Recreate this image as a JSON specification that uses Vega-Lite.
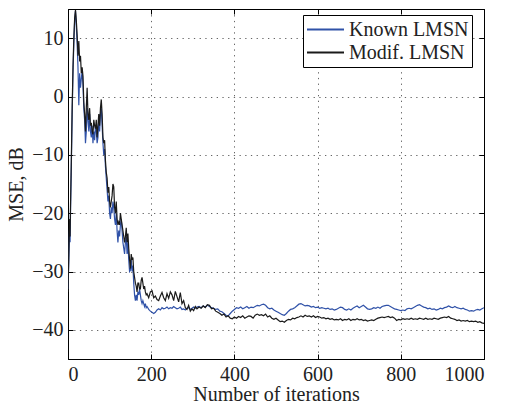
{
  "$schema": "https://vega.github.io/schema/vega-lite/v6.json",
  "width": 416,
  "height": 350,
  "autosize": {"type": "none"},
  "padding": {"left": 68, "top": 9, "right": 22, "bottom": 42},
  "background": "white",
  "config": {
    "font": "Liberation Serif",
    "view": {"stroke": "black", "strokeWidth": 1},
    "axis": {
      "labelFont": "Liberation Serif",
      "titleFont": "Liberation Serif",
      "labelFontSize": 20,
      "titleFontSize": 20,
      "titleFontWeight": "normal",
      "labelColor": "#222",
      "titleColor": "#222",
      "domainColor": "black",
      "tickColor": "black",
      "gridColor": "#666",
      "gridDash": [1.3, 4.4],
      "gridOpacity": 1,
      "gridWidth": 1
    },
    "legend": {
      "labelFont": "Liberation Serif",
      "labelFontSize": 20,
      "labelColor": "#222"
    }
  },
  "data": {
    "values": [
      {"i":0,"k":-33,"m":-33.5},{"i":2,"k":-28,"m":-27},{"i":4,"k":-22,"m":-21},{"i":5,"k":-25,"m":-24},{"i":6,"k":-20,"m":-19},{"i":8,"k":-12,"m":-11},{"i":10,"k":-3,"m":-2},{"i":12,"k":4,"m":5},{"i":14,"k":9,"m":10},{"i":16,"k":13,"m":13.5},{"i":18,"k":14.7,"m":14.8},{"i":20,"k":12,"m":13},{"i":22,"k":9,"m":10.5},{"i":24,"k":5,"m":7},{"i":26,"k":-1.5,"m":9.5},{"i":28,"k":4,"m":6},{"i":30,"k":1.5,"m":7},{"i":32,"k":3,"m":4},{"i":34,"k":4.5,"m":5},{"i":36,"k":2,"m":3.5},{"i":38,"k":-2,"m":-1},{"i":40,"k":-4,"m":-3},{"i":42,"k":-8,"m":-6},{"i":44,"k":-6,"m":-2},{"i":46,"k":-2,"m":1.5},{"i":48,"k":-4,"m":-3},{"i":50,"k":-6,"m":-4},{"i":52,"k":-3,"m":-2},{"i":54,"k":-6,"m":-5},{"i":56,"k":-7,"m":-4.5},{"i":58,"k":-5,"m":-6},{"i":60,"k":-8,"m":-6.5},{"i":62,"k":-6,"m":-4},{"i":64,"k":-7.5,"m":-5},{"i":66,"k":-5,"m":-5.5},{"i":68,"k":-6,"m":-4},{"i":70,"k":-8,"m":-7},{"i":72,"k":-7,"m":-5},{"i":74,"k":-4,"m":-3},{"i":76,"k":-6,"m":-5},{"i":78,"k":-3,"m":-2},{"i":80,"k":-2,"m":-0.5},{"i":82,"k":-5,"m":-3},{"i":84,"k":-8,"m":-7},{"i":86,"k":-10,"m":-8},{"i":88,"k":-9,"m":-7.5},{"i":90,"k":-12,"m":-11},{"i":92,"k":-14,"m":-13},{"i":94,"k":-16,"m":-14},{"i":96,"k":-18,"m":-16.5},{"i":98,"k":-17,"m":-15.5},{"i":100,"k":-20,"m":-18},{"i":102,"k":-21,"m":-19},{"i":104,"k":-19,"m":-18},{"i":106,"k":-20,"m":-17},{"i":108,"k":-18,"m":-15},{"i":110,"k":-19,"m":-15.5},{"i":112,"k":-21,"m":-19},{"i":114,"k":-22,"m":-20},{"i":116,"k":-20,"m":-18},{"i":118,"k":-23,"m":-21},{"i":120,"k":-25,"m":-22},{"i":122,"k":-23,"m":-21.5},{"i":124,"k":-24,"m":-22},{"i":126,"k":-22,"m":-20},{"i":128,"k":-21,"m":-21},{"i":130,"k":-23,"m":-22},{"i":132,"k":-25,"m":-23},{"i":134,"k":-26,"m":-24},{"i":136,"k":-27,"m":-25},{"i":138,"k":-25,"m":-24},{"i":140,"k":-24,"m":-22.5},{"i":142,"k":-27,"m":-25},{"i":144,"k":-25,"m":-23.5},{"i":146,"k":-28,"m":-26},{"i":148,"k":-30,"m":-28},{"i":150,"k":-29.8,"m":-29.5},{"i":152,"k":-28,"m":-27},{"i":154,"k":-30,"m":-28},{"i":156,"k":-29,"m":-27.6},{"i":158,"k":-32,"m":-30},{"i":160,"k":-34,"m":-31},{"i":162,"k":-35,"m":-32},{"i":164,"k":-34,"m":-32.5},{"i":166,"k":-35,"m":-33.5},{"i":168,"k":-33.5,"m":-32},{"i":170,"k":-34,"m":-32},{"i":172,"k":-33,"m":-33},{"i":174,"k":-34,"m":-33},{"i":176,"k":-35,"m":-31.5},{"i":178,"k":-35.5,"m":-31},{"i":180,"k":-35,"m":-32},{"i":182,"k":-35.5,"m":-33},{"i":184,"k":-36,"m":-32.5},{"i":186,"k":-35.5,"m":-33.5},{"i":188,"k":-36.2,"m":-34},{"i":190,"k":-36,"m":-33.8},{"i":194,"k":-36.5,"m":-34.5},{"i":198,"k":-36.8,"m":-33.5},{"i":202,"k":-37,"m":-33.3},{"i":206,"k":-37.2,"m":-34.5},{"i":210,"k":-37,"m":-34.2},{"i":214,"k":-36.6,"m":-34.8},{"i":218,"k":-36.4,"m":-35},{"i":222,"k":-36.6,"m":-34.2},{"i":226,"k":-36.2,"m":-33.6},{"i":230,"k":-36.4,"m":-34.5},{"i":234,"k":-36.3,"m":-35},{"i":238,"k":-36.1,"m":-33.8},{"i":242,"k":-36.4,"m":-34.6},{"i":246,"k":-36.2,"m":-33.5},{"i":250,"k":-36.3,"m":-34},{"i":254,"k":-36,"m":-35},{"i":258,"k":-36.2,"m":-33.4},{"i":262,"k":-36.4,"m":-34.3},{"i":266,"k":-36.3,"m":-35.2},{"i":270,"k":-36.1,"m":-33.6},{"i":274,"k":-36.5,"m":-35.5},{"i":278,"k":-36.4,"m":-35},{"i":282,"k":-36.6,"m":-36.2},{"i":286,"k":-36.3,"m":-36.5},{"i":290,"k":-36.2,"m":-35.8},{"i":294,"k":-36.5,"m":-36.8},{"i":298,"k":-36.3,"m":-36.4},{"i":302,"k":-36.1,"m":-36.7},{"i":306,"k":-36.3,"m":-36},{"i":310,"k":-36.1,"m":-36.4},{"i":315,"k":-36,"m":-36.1},{"i":320,"k":-36.2,"m":-36.3},{"i":325,"k":-35.9,"m":-35.9},{"i":330,"k":-36.1,"m":-36.2},{"i":335,"k":-35.8,"m":-35.7},{"i":340,"k":-36,"m":-35.8},{"i":345,"k":-36.2,"m":-36.4},{"i":350,"k":-36.3,"m":-36.3},{"i":355,"k":-36.5,"m":-36.8},{"i":360,"k":-36.4,"m":-37},{"i":365,"k":-36.8,"m":-37.2},{"i":370,"k":-36.9,"m":-37.5},{"i":375,"k":-37.2,"m":-37.3},{"i":380,"k":-37.5,"m":-37.8},{"i":385,"k":-37.6,"m":-37.6},{"i":390,"k":-37.2,"m":-38},{"i":395,"k":-36.8,"m":-38.1},{"i":400,"k":-36.5,"m":-37.8},{"i":405,"k":-36.2,"m":-38},{"i":410,"k":-36.3,"m":-37.7},{"i":415,"k":-36.1,"m":-37.9},{"i":420,"k":-36.4,"m":-37.6},{"i":425,"k":-36.2,"m":-38},{"i":430,"k":-36,"m":-37.8},{"i":435,"k":-36.3,"m":-37.6},{"i":440,"k":-36.1,"m":-37.7},{"i":445,"k":-36.2,"m":-38},{"i":450,"k":-36,"m":-37.5},{"i":455,"k":-35.8,"m":-37.3},{"i":460,"k":-35.9,"m":-37.5},{"i":465,"k":-35.7,"m":-37.4},{"i":470,"k":-35.6,"m":-37.6},{"i":475,"k":-35.8,"m":-37.3},{"i":480,"k":-36.2,"m":-37.8},{"i":485,"k":-36.4,"m":-37.6},{"i":490,"k":-36.3,"m":-38},{"i":495,"k":-36.6,"m":-38.2},{"i":500,"k":-36.8,"m":-38},{"i":505,"k":-37,"m":-38.3},{"i":510,"k":-37.2,"m":-38.6},{"i":515,"k":-37.4,"m":-38.5},{"i":520,"k":-37.5,"m":-38.7},{"i":525,"k":-37.2,"m":-38.4},{"i":530,"k":-36.8,"m":-38.2},{"i":535,"k":-36.5,"m":-38.3},{"i":540,"k":-36.4,"m":-38},{"i":545,"k":-36.2,"m":-38.1},{"i":550,"k":-35.9,"m":-37.9},{"i":555,"k":-35.6,"m":-37.8},{"i":560,"k":-35.5,"m":-37.6},{"i":565,"k":-35.7,"m":-37.8},{"i":570,"k":-35.9,"m":-37.5},{"i":575,"k":-35.8,"m":-37.7},{"i":580,"k":-35.9,"m":-37.6},{"i":585,"k":-36.1,"m":-37.8},{"i":590,"k":-36,"m":-37.6},{"i":595,"k":-36.2,"m":-37.9},{"i":600,"k":-36.1,"m":-37.7},{"i":605,"k":-36.3,"m":-37.8},{"i":610,"k":-36.2,"m":-38},{"i":615,"k":-36.3,"m":-37.9},{"i":620,"k":-36.4,"m":-38.1},{"i":625,"k":-36.3,"m":-38},{"i":630,"k":-36.5,"m":-38.2},{"i":635,"k":-36.4,"m":-38.1},{"i":640,"k":-36.6,"m":-38.3},{"i":645,"k":-36.5,"m":-38.2},{"i":650,"k":-36.3,"m":-38.3},{"i":655,"k":-36.1,"m":-38.1},{"i":660,"k":-36.2,"m":-38.4},{"i":665,"k":-36.5,"m":-38.2},{"i":670,"k":-36.6,"m":-38.3},{"i":675,"k":-36.4,"m":-38.1},{"i":680,"k":-36.6,"m":-38.4},{"i":685,"k":-36.3,"m":-38.2},{"i":690,"k":-36.1,"m":-38.3},{"i":695,"k":-35.9,"m":-38.1},{"i":700,"k":-36.2,"m":-38.3},{"i":705,"k":-36,"m":-38.2},{"i":710,"k":-35.8,"m":-38.4},{"i":715,"k":-36.1,"m":-38.3},{"i":720,"k":-36.4,"m":-38.5},{"i":725,"k":-36.5,"m":-38.4},{"i":730,"k":-36.4,"m":-38.3},{"i":735,"k":-36.2,"m":-38.4},{"i":740,"k":-36.3,"m":-38.2},{"i":745,"k":-36.1,"m":-38},{"i":750,"k":-36.3,"m":-37.9},{"i":755,"k":-36,"m":-37.8},{"i":760,"k":-35.9,"m":-37.9},{"i":765,"k":-35.8,"m":-37.8},{"i":770,"k":-35.8,"m":-37.7},{"i":775,"k":-36,"m":-37.9},{"i":780,"k":-36.2,"m":-37.8},{"i":785,"k":-36.4,"m":-38},{"i":790,"k":-36.5,"m":-38.4},{"i":795,"k":-36.6,"m":-38.2},{"i":800,"k":-36.7,"m":-38.3},{"i":805,"k":-36.6,"m":-38.1},{"i":810,"k":-36.7,"m":-38.2},{"i":815,"k":-36.4,"m":-38.1},{"i":820,"k":-36.3,"m":-38.2},{"i":825,"k":-36.4,"m":-38},{"i":830,"k":-36.2,"m":-38.2},{"i":835,"k":-36,"m":-38.1},{"i":840,"k":-35.8,"m":-38.2},{"i":845,"k":-35.7,"m":-38},{"i":850,"k":-35.9,"m":-38.1},{"i":855,"k":-36.1,"m":-38.2},{"i":860,"k":-36.2,"m":-38},{"i":865,"k":-36.4,"m":-38.2},{"i":870,"k":-36.3,"m":-38.1},{"i":875,"k":-36.5,"m":-38.2},{"i":880,"k":-36.4,"m":-38},{"i":885,"k":-36.6,"m":-38.1},{"i":890,"k":-36.5,"m":-38.2},{"i":895,"k":-36.3,"m":-38},{"i":900,"k":-36.4,"m":-37.9},{"i":905,"k":-36.2,"m":-37.8},{"i":910,"k":-36.1,"m":-37.9},{"i":915,"k":-35.9,"m":-37.7},{"i":920,"k":-36.1,"m":-38},{"i":925,"k":-36.2,"m":-38.1},{"i":930,"k":-36,"m":-38.2},{"i":935,"k":-36.2,"m":-38.4},{"i":940,"k":-36.3,"m":-38.3},{"i":945,"k":-36.4,"m":-38.5},{"i":950,"k":-36.3,"m":-38.4},{"i":955,"k":-36.5,"m":-38.5},{"i":960,"k":-36.6,"m":-38.4},{"i":965,"k":-36.8,"m":-38.6},{"i":970,"k":-36.7,"m":-38.5},{"i":975,"k":-36.8,"m":-38.6},{"i":980,"k":-36.6,"m":-38.5},{"i":985,"k":-36.5,"m":-38.7},{"i":990,"k":-36.6,"m":-38.6},{"i":995,"k":-36.4,"m":-38.8},{"i":1000,"k":-36.2,"m":-38.9}
    ]
  },
  "transform": [
    {"fold": ["k", "m"], "as": ["key", "mse"]},
    {"calculate": "datum.key === 'k' ? 'Known LMSN' : 'Modif. LMSN'", "as": "series"}
  ],
  "layer": [
    {
      "transform": [{"filter": "datum.key === 'k'"}],
      "mark": {"type": "line", "strokeWidth": 1.2, "clip": true},
      "encoding": {
        "x": {"field": "i", "type": "quantitative", "scale": {"domain": [0, 1000], "nice": false},
              "axis": {"title": "Number of iterations", "values": [0, 200, 400, 600, 800, 1000], "format": "d",
                       "tickSize": -5, "labelPadding": 10, "titlePadding": 0, "domain": true, "grid": true}},
        "y": {"field": "mse", "type": "quantitative", "scale": {"domain": [-45, 15], "nice": false, "zero": false},
              "axis": {"title": "MSE, dB", "values": [-40, -30, -20, -10, 0, 10], "format": "d",
                       "tickSize": -5, "labelPadding": 10, "titlePadding": 5, "grid": true}},
        "color": {"field": "series", "type": "nominal",
                  "scale": {"domain": ["Known LMSN", "Modif. LMSN"], "range": ["#3052a8", "#1a1a1a"]},
                  "legend": {"title": null, "orient": "none", "legendX": 235, "legendY": 6,
                             "symbolType": "stroke", "symbolSize": 1369, "symbolStrokeWidth": 2,
                             "labelFont": "Liberation Serif", "labelFontSize": 20, "labelColor": "#222",
                             "labelOffset": 4, "rowPadding": 0, "padding": 3, "clipHeight": 23,
                             "strokeColor": "black", "fillColor": "white"}}
      }
    },
    {
      "transform": [{"filter": "datum.key === 'm'"}],
      "mark": {"type": "line", "strokeWidth": 1.2, "clip": true},
      "encoding": {
        "x": {"field": "i", "type": "quantitative",
              "axis": {"orient": "top", "title": null, "labels": false, "values": [0, 200, 400, 600, 800, 1000], "tickSize": -5, "grid": false}},
        "y": {"field": "mse", "type": "quantitative",
              "axis": {"orient": "right", "title": null, "labels": false, "values": [-40, -30, -20, -10, 0, 10], "tickSize": -5, "grid": false}},
        "color": {"field": "series", "type": "nominal"}
      }
    }
  ],
  "resolve": {"axis": {"x": "independent", "y": "independent"}}
}
